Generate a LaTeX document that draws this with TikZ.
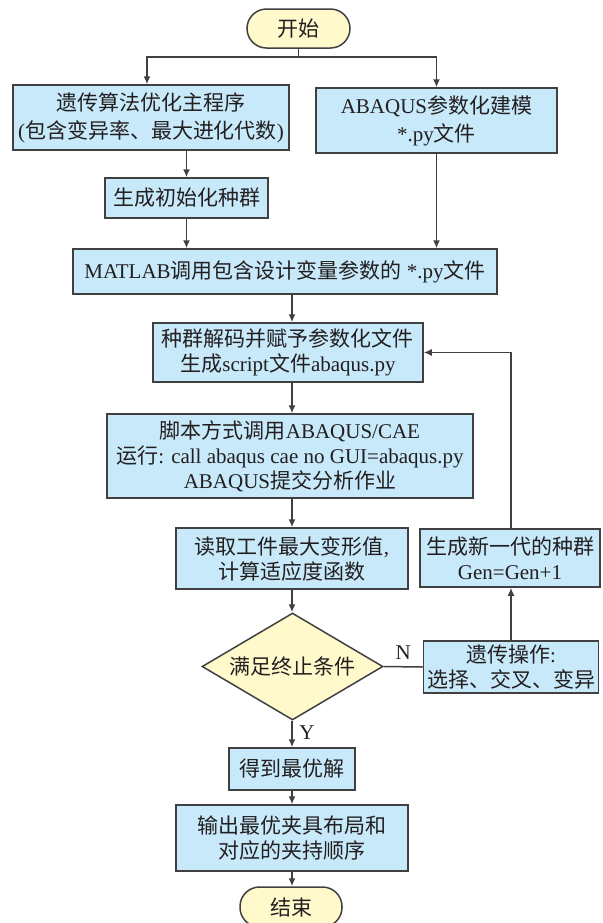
\documentclass[tikz,border=0pt]{standalone}
\usepackage{fontspec}
\setmainfont{Liberation Serif}
\newfontfamily\zhfont{Noto Sans CJK SC}
\newcommand{\zh}[1]{{\zhfont #1}}
\usetikzlibrary{shapes.geometric,arrows.meta}
\definecolor{boxblue}{RGB}{199,233,249}
\definecolor{termyellow}{RGB}{255,249,204}
\definecolor{linegray}{RGB}{64,64,64}
\definecolor{txtdark}{RGB}{35,31,32}
\tikzset{
  procbox/.style={draw=linegray, fill=boxblue, line width=0.75pt, align=center,
    inner sep=0pt, text=txtdark, font=\fontsize{10.5}{12.5}\selectfont},
  termbox/.style={procbox, fill=termyellow, rounded corners=9.75pt},
  decbox/.style={procbox, fill=termyellow, diamond, aspect=1.7},
  line/.style={draw=linegray, line width=0.75pt},
  arr/.style={line, -{Latex[length=4pt,width=3.5pt]}},
  lab/.style={text=txtdark, font=\fontsize{10.5}{12.5}\selectfont}
}
\begin{document}
\begin{tikzpicture}[x=0.5pt,y=-0.5pt]
    \useasboundingbox (0,0) rectangle (603,923);
    % nodes
    \node[termbox, minimum width=51.5pt, minimum height=19.5pt] (start) at (298.5,28.5) {\zh{开始}};
    \node[procbox, minimum width=138pt, minimum height=32.5pt] (gamain) at (151,117.5)
        {\zh{遗传算法优化主程序}\\[1.5pt](\zh{包含变异率、最大进化代数})};
    \node[procbox, minimum width=120.5pt, minimum height=32.5pt] (abq) at (436.5,120.5)
        {ABAQUS\zh{参数化建模}\\[1.5pt]*.py\zh{文件}};
    \node[procbox, minimum width=81.5pt, minimum height=20pt] (init) at (186.5,198) {\zh{生成初始化种群}};
    \node[procbox, minimum width=212pt, minimum height=22.5pt] (matlab) at (285,271.5)
        {MATLAB\zh{调用包含设计变量参数的} *.py\zh{文件}};
    \node[procbox, minimum width=135pt, minimum height=29.5pt] (decode) at (288,352.5)
        {\zh{种群解码并赋予参数化文件}\\\zh{生成}script\zh{文件}abaqus.py};
    \node[procbox, minimum width=183pt, minimum height=42pt] (script) at (290,456)
        {\zh{脚本方式调用}ABAQUS/CAE\\\zh{运行}: call abaqus cae no GUI=abaqus.py\\ABAQUS\zh{提交分析作业}};
    \node[procbox, minimum width=116pt, minimum height=30.5pt] (read) at (292,558.5)
        {\zh{读取工件最大变形值},\\\zh{计算适应度函数}};
    \node[procbox, minimum width=90pt, minimum height=29pt] (newgen) at (510,558)
        {\zh{生成新一代的种群}\\Gen=Gen+1};
    \node[decbox, minimum width=90.5pt, minimum height=53.5pt] (cond) at (292.5,666.5) {\zh{满足终止条件}};
    \node[procbox, minimum width=87.5pt, minimum height=26pt] (genop) at (511,667)
        {\zh{遗传操作}:\\\zh{选择、交叉、变异}};
    \node[procbox, minimum width=63pt, minimum height=21pt] (best) at (292,769) {\zh{得到最优解}};
    \node[procbox, minimum width=116pt, minimum height=33pt] (output) at (292,838)
        {\zh{输出最优夹具布局和}\\\zh{对应的夹持顺序}};
    \node[termbox, minimum width=51pt, minimum height=20pt] (stop) at (291,907) {\zh{结束}};
    % branch points
    \coordinate (brL) at (147,57);
    \coordinate (brR) at (436.5,57);
    % connectors
    \draw[arr] (start.south) |- (brL) -- (brL |- gamain.north);
    \draw[arr] (start.south) |- (brR) -- (abq.north);
    \draw[arr] (gamain.south -| init) -- (init.north);
    \draw[arr] (init.south) -- (init.south |- matlab.north);
    \draw[arr] (abq.south) -- (abq.south |- matlab.north);
    \draw[arr] (matlab.south -| read) -- (decode.north -| read);
    \draw[arr] (decode.south -| read) -- (script.north -| read);
    \draw[arr] (script.south -| read) -- (read.north);
    \draw[arr] (read.south) -- (cond.north -| read);
    \draw[arr] (cond.south -| read) -- node[lab, right, pos=0.45] {Y} (best.north);
    \draw[arr] (best.south) -- (output.north);
    \draw[arr] (output.south) -- (stop.north -| output);
    \draw[line] (cond.east) -- node[lab, above, pos=0.5] {N} (genop.west);
    \draw[arr] (genop.north) -- (genop.north |- newgen.south);
    \draw[arr] (newgen.north -| genop) |- (decode.east);
\end{tikzpicture}
\end{document}
